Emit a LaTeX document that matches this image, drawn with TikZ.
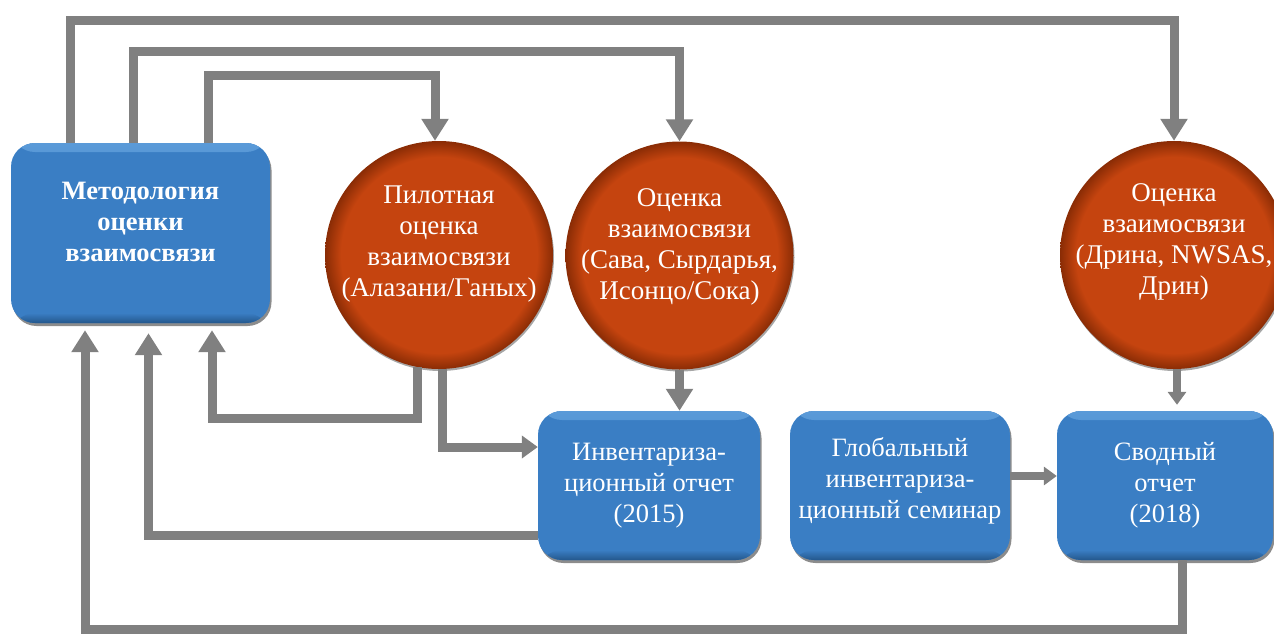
\documentclass[tikz,border=0pt]{standalone}
\usepackage{fontspec}
\setmainfont{Liberation Serif}
\usetikzlibrary{arrows.meta,shadows}
\definecolor{boxblue}{HTML}{3A7EC4}
\definecolor{boxlight}{HTML}{5A9AD8}
\definecolor{boxrim}{HTML}{24578C}
\definecolor{circorange}{HTML}{C5440F}
\definecolor{circrim}{HTML}{8A2C05}
\definecolor{conngray}{HTML}{808080}
\pgfdeclareradialshading{rimshade}{\pgfpoint{0bp}{0bp}}{color(0bp)=(circorange); color(21.5bp)=(circorange); color(25bp)=(circrim); color(50bp)=(circrim)}
\begin{document}
\begin{tikzpicture}[x=1pt,y=-1pt,
  bluebox/.style={rectangle, rounded corners=24pt, fill=boxblue, draw=none, inner sep=0pt,
    drop shadow={shadow xshift=1.5pt, shadow yshift=-3pt, opacity=0.45, fill=black},
    path picture={
      \shade[top color=boxlight, bottom color=boxblue] (path picture bounding box.north west) rectangle ([yshift=-9pt]path picture bounding box.north east);
      \shade[top color=boxblue, bottom color=boxrim] ([yshift=10pt]path picture bounding box.south west) rectangle (path picture bounding box.south east);
    }},
  orangecirc/.style={circle, minimum size=228pt, inner sep=0pt, draw=none, shading=rimshade,
    drop shadow={shadow xshift=1pt, shadow yshift=-2pt, opacity=0.35, fill=black}},
  wtext/.style={text=white, align=center, inner sep=0pt, font=\fontsize{26.5}{31}\selectfont},
  ctext/.style={wtext, font=\fontsize{27}{31}\selectfont},
  btext/.style={wtext, font=\fontsize{26.5}{31}\selectfont\bfseries},
  conn/.style={draw=conngray, line width=9pt, line cap=butt, line join=miter, -{Triangle[width=26pt,length=22pt]}},
  midconn/.style={conn, -{Triangle[width=22pt,length=16pt]}},
  smallconn/.style={conn, line width=8pt, -{Triangle[width=18pt,length=13pt]}},
]
\useasboundingbox (0,0) rectangle (1274,633);

% shapes
\node[bluebox, minimum width=259pt, minimum height=180pt] (m) at (140.5,233) {};
\node[btext] (mt) at ([yshift=11pt]m.center) {Методология\\оценки\\взаимосвязи};

\node[orangecirc] (c1) at (439,255) {};
\node[ctext] (c1t) at ([yshift=11pt]c1.center) {Пилотная\\оценка\\взаимосвязи\\(Алазани/Ганых)};

\node[orangecirc] (c2) at (679.5,255.5) {};
\node[ctext] (c2t) at ([yshift=9pt]c2.center) {Оценка\\взаимосвязи\\(Сава, Сырдарья,\\Исонцо/Сока)};

\node[orangecirc] (c3) at (1174,255) {};
\node[ctext] (c3t) at ([yshift=13pt]c3.center) {Оценка\\взаимосвязи\\(Дрина, NWSAS,\\Дрин)};

\node[bluebox, minimum width=222pt, minimum height=149pt] (r1) at (649,485.5) {};
\node[wtext] (r1t) at (r1.center) {Инвентариза-\\ционный отчет\\(2015)};

\node[bluebox, minimum width=220pt, minimum height=149pt] (r2) at (900,485.5) {};
\node[wtext] (r2t) at ([yshift=5pt]r2.center) {Глобальный\\инвентариза-\\ционный семинар};

\node[bluebox, minimum width=216pt, minimum height=149pt] (r3) at (1165,485.5) {};
\node[wtext] (r3t) at (r3.center) {Сводный\\отчет\\(2018)};

% connectors from the methodology box to the assessments
\draw[conn] ([xshift=-70.5pt]m.north) |- (1174,20) -- (c3.north);
\draw[conn] ([xshift=-7.5pt]m.north) |- (679.5,51) -- (c2.north);
\draw[conn] ([xshift=68pt]m.north) |- (435,75) -- ([xshift=-4pt]c1.north);

% feedback to the methodology box
\draw[conn] (c1.-101) |- (212,418) -- ([xshift=71.5pt,yshift=-7pt]m.south);
\draw[conn] ([yshift=-49.5pt]r1.west) -| ([xshift=8pt,yshift=-10pt]m.south);
\draw[conn] ([xshift=17pt]r3.south) |- (85,629) -- ([xshift=-55.5pt,yshift=-7pt]m.south);

% other connectors
\draw[midconn] (c1.-88) |- ([yshift=38.5pt]r1.west);
\draw[conn] (c2.south) -- (c2.south |- r1.north);
\draw[smallconn] ([xshift=3pt]c3.south) -- ([xshift=3pt,yshift=6pt]c3.south |- r3.north);
\draw[smallconn] ([yshift=9.5pt]r2.east) -- ([yshift=9.5pt]r3.west);
\end{tikzpicture}
\end{document}
